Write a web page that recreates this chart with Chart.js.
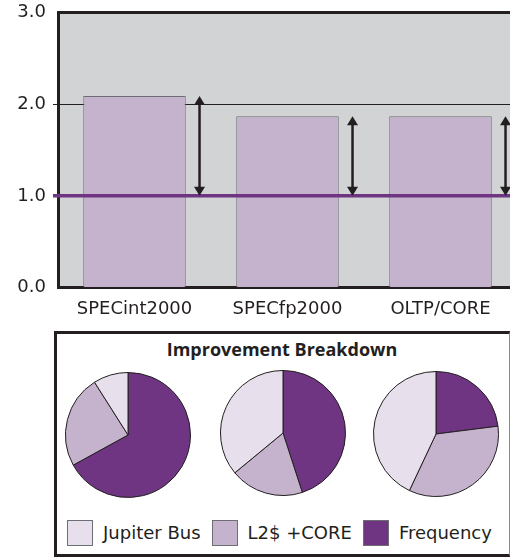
<!DOCTYPE html>
<html>
<head>
<meta charset="utf-8">
<script src="https://cdn.jsdelivr.net/npm/chart.js@4.4.1/dist/chart.umd.min.js"></script>
<style>
  html, body { margin: 0; padding: 0; width: 510px; height: 557px; overflow: hidden; background: #fff; }
  canvas { position: absolute; }
  #panel {
    position: absolute; left: 54px; top: 331px; width: 456px; height: 226px; box-sizing: border-box;
    border: 3px solid #231f20; border-right: 1px solid #8a8a8a; background: #fff;
  }
  #title {
    position: absolute; left: 54px; top: 339px; width: 456px; text-align: center;
    font: bold 18px/20px "Open Sans", sans-serif; color: #231f20;
  }
  #legend {
    position: absolute; left: 67px; top: 520px; height: 26px; display: flex; align-items: center;
    font: 18px/26px "DejaVu Sans", sans-serif; color: #231f20;
  }
  #legend .box { width: 26px; height: 26px; box-sizing: border-box; border: 1px solid #6d6e71; margin-right: 10px; }
  #legend .txt { margin-right: 11px; }
</style>
</head>
<body>
<canvas id="barChart" width="540" height="342" style="left:0;top:-5px"></canvas>
<div id="panel"></div>
<div id="title">Improvement Breakdown</div>
<canvas id="pie0" width="126" height="126" style="left:65px;top:372px"></canvas>
<canvas id="pie1" width="126" height="126" style="left:220px;top:370px"></canvas>
<canvas id="pie2" width="126" height="126" style="left:373px;top:371px"></canvas>
<div id="legend"></div>
<script>
// Bar chart data
const categories = ["SPECint2000", "SPECfp2000", "OLTP/CORE"];
const speedup = [2.09, 1.87, 1.87];
const baseline = 1.0;

// Pie data (share of improvement, %)
const parts = ["Jupiter Bus", "L2$ +CORE", "Frequency"];
const jupiterShare = [9, 36, 43];
const l2Share = [24, 19, 34];
const freqShare = [67, 45, 23];

const INK = "#231f20";
const PURPLE = "#6f3582";
const LILAC = "#c5b3ce";
const PALE = "#e7e0ec";
const FONT = "'DejaVu Sans', sans-serif";

// gray plot background
const backdrop = {
  id: "backdrop",
  beforeDraw(chart) {
    const { ctx, chartArea: a } = chart;
    ctx.save();
    ctx.fillStyle = "#d1d3d4";
    ctx.fillRect(a.left, a.top, a.right - a.left, a.bottom - a.top);
    ctx.restore();
  }
};

// baseline at 1.0 and double arrows showing the gain
const markers = {
  id: "markers",
  afterDatasetsDraw(chart) {
    const { ctx, chartArea: a, scales: { x, y } } = chart;
    const yBase = y.getPixelForValue(baseline);
    ctx.save();
    ctx.strokeStyle = PURPLE;
    ctx.lineWidth = 3.5;
    ctx.beginPath();
    ctx.moveTo(a.left - 5, yBase);
    ctx.lineTo(a.right, yBase);
    ctx.stroke();

    const step = x.getPixelForValue(1) - x.getPixelForValue(0);
    ctx.strokeStyle = INK;
    ctx.fillStyle = INK;
    ctx.lineWidth = 2.5;
    speedup.forEach((v, i) => {
      const px = x.getPixelForValue(i) + step * 0.425;
      const yTop = y.getPixelForValue(v);
      const head = 9, half = 5.5;
      ctx.beginPath();
      ctx.moveTo(px, yTop + head - 1);
      ctx.lineTo(px, yBase - head + 1);
      ctx.stroke();
      ctx.beginPath();
      ctx.moveTo(px, yTop);
      ctx.lineTo(px - half, yTop + head);
      ctx.lineTo(px + half, yTop + head);
      ctx.closePath();
      ctx.fill();
      ctx.beginPath();
      ctx.moveTo(px, yBase);
      ctx.lineTo(px - half, yBase - head);
      ctx.lineTo(px + half, yBase - head);
      ctx.closePath();
      ctx.fill();
    });
    ctx.restore();
  }
};

new Chart(document.getElementById("barChart"), {
  type: "bar",
  data: {
    labels: categories,
    datasets: [{
      data: speedup,
      backgroundColor: LILAC,
      borderColor: "#6d6e71",
      borderWidth: 1,
      categoryPercentage: 1,
      barPercentage: 0.67
    }]
  },
  options: {
    responsive: false,
    animation: false,
    layout: { padding: { top: 7, right: 23, bottom: 6, left: 0 } },
    plugins: { legend: { display: false }, tooltip: { enabled: false } },
    scales: {
      x: {
        grid: { display: false, drawTicks: false },
        border: { display: true, color: INK, width: 3 },
        ticks: { padding: 11, color: INK, font: { family: FONT, size: 18 } }
      },
      y: {
        min: 0,
        max: 3,
        afterFit: s => { s.width = 58; },
        ticks: { stepSize: 1, padding: 7, color: INK, font: { family: FONT, size: 18 }, callback: v => v.toFixed(1) },
        grid: {
          color: INK,
          lineWidth: c => (c.tick && c.tick.value === 3 ? 3 : 1),
          tickLength: 5,
          tickColor: c => (c.tick && (c.tick.value === 1 || c.tick.value === 2) ? INK : "rgba(0,0,0,0)")
        },
        border: { display: true, color: INK, width: 3 }
      }
    }
  },
  plugins: [backdrop, markers]
});

// one pie per benchmark, Frequency first from 12 o'clock
categories.forEach((c, i) => {
  new Chart(document.getElementById("pie" + i), {
    type: "pie",
    data: {
      labels: [parts[2], parts[1], parts[0]],
      datasets: [{
        data: [freqShare[i], l2Share[i], jupiterShare[i]],
        backgroundColor: [PURPLE, LILAC, PALE],
        borderColor: INK,
        borderWidth: 1
      }]
    },
    options: {
      responsive: false,
      animation: false,
      layout: { padding: 0 },
      plugins: { legend: { display: false }, tooltip: { enabled: false } }
    }
  });
});

// legend
const legend = document.getElementById("legend");
const partColors = [PALE, LILAC, PURPLE];
parts.forEach((p, i) => {
  const box = document.createElement("span");
  box.className = "box";
  box.style.background = partColors[i];
  const txt = document.createElement("span");
  txt.className = "txt";
  txt.textContent = p;
  legend.appendChild(box);
  legend.appendChild(txt);
});
</script>
</body>
</html>
